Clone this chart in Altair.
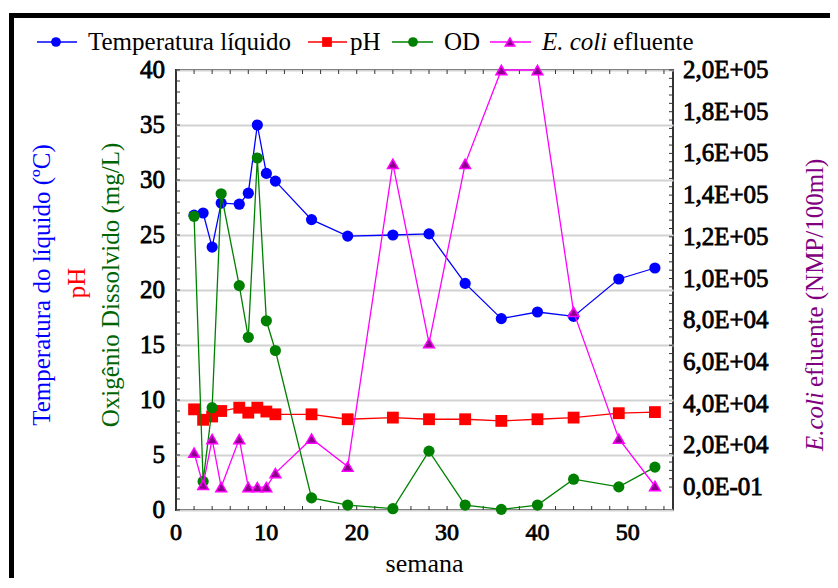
import altair as alt
import pandas as pd

# ---------------- data ----------------
weeks = [2, 3, 4, 5, 7, 8, 9, 10, 11, 15, 19, 24, 28, 32, 36, 40, 44, 49, 53]
temperatura = [26.8, 27.0, 23.9, 27.9, 27.8, 28.8, 35.0, 30.6, 29.9, 26.4, 24.9, 25.0, 25.1,
               20.6, 17.4, 18.0, 17.6, 21.0, 22.0]
ph = [9.15, 8.2, 8.5, 9.0, 9.3, 8.85, 9.3, 8.95, 8.7, 8.7, 8.25, 8.4, 8.25,
      8.25, 8.1, 8.25, 8.4, 8.8, 8.9]
od = [26.7, 2.6, 9.3, 28.75, 20.4, 15.7, 32.0, 17.2, 14.5, 1.1, 0.45, 0.12, 5.35,
      0.45, 0.06, 0.45, 2.8, 2.1, 3.9]
ecoli = [16500, 1000, 23000, 0, 23000, 0, 0, 0, 6700, 23200, 9800, 155000, 69000,
         155000, 200000, 200000, 84000, 23200, 500]

x_tick_values = [0, 10, 20, 30, 40, 50]
x_tick_labels = ["0", "10", "20", "30", "40", "50"]
left_tick_values = [0, 5, 10, 15, 20, 25, 30, 35, 40]
left_tick_labels = ["0", "5", "10", "15", "20", "25", "30", "35", "40"]
ecoli_tick_values = [0, 20000, 40000, 60000, 80000, 100000, 120000, 140000, 160000, 180000, 200000]
ecoli_tick_labels = ["0,0E-01", "2,0E+04", "4,0E+04", "6,0E+04", "8,0E+04", "1,0E+05",
                     "1,2E+05", "1,4E+05", "1,6E+05", "1,8E+05", "2,0E+05"]
x_minor = list(range(0, 56, 2))
left_minor = list(range(0, 41))
ecoli_minor = list(range(0, 200001, 4000))

# ---------------- setup ----------------
W, H = 497, 440
FONT = "Liberation Serif"
BOLD_STROKE = 0.8

df = pd.DataFrame({"semana": weeks, "temp": temperatura, "ph": ph, "od": od, "ecoli": ecoli})
one = pd.DataFrame({"k": [0]})

x_scale = alt.Scale(domain=[0, 55], nice=False, zero=False)
X = alt.X("semana:Q", scale=x_scale, axis=None)

yl_scale = alt.Scale(domain=[0, 40], nice=False, zero=False)
yl_axis = alt.Axis(values=left_tick_values, labels=False, ticks=False, domain=False,
                   grid=True, gridColor="#d2d2d2", gridWidth=2, title=None)

yr_scale = alt.Scale(domain=[-11000, 200000], nice=False, zero=False)


def series(field, color, shape, size):
    base = alt.Chart(df).encode(x=X, y=alt.Y(f"{field}:Q", scale=yl_scale, axis=yl_axis))
    line = base.mark_line(color=color, strokeWidth=1.3)
    pt = base.mark_point(shape=shape, filled=True, color=color, size=size, opacity=1)
    return line + pt


temp_layer = series("temp", "#0000FF", "circle", 125)
ph_layer = series("ph", "#FF0000", "square", 140)
od_layer = series("od", "#008000", "circle", 125)

# minor ticks (inward) on left, top, bottom
lt = pd.DataFrame({"v": left_minor})
left_ticks = alt.Chart(lt).mark_rule(color="#333333", strokeWidth=1).encode(
    y=alt.Y("v:Q", scale=yl_scale, axis=yl_axis), x=alt.value(0), x2=alt.value(4))
xt = pd.DataFrame({"semana": x_minor})
bottom_ticks = alt.Chart(xt).mark_rule(color="#333333", strokeWidth=1).encode(
    x=X, y=alt.value(H), y2=alt.value(H - 4))
top_ticks = alt.Chart(xt).mark_rule(color="#333333", strokeWidth=1).encode(
    x=X, y=alt.value(0), y2=alt.value(4))

# tick labels (Times-like bold)
lbl_kw = dict(font=FONT, stroke="black", strokeWidth=BOLD_STROKE, color="black")
left_lbl_df = pd.DataFrame({"v": left_tick_values, "t": left_tick_labels})
left_labels = alt.Chart(left_lbl_df).mark_text(
    align="right", baseline="middle", fontSize=25, **lbl_kw).encode(
    y=alt.Y("v:Q", scale=yl_scale, axis=yl_axis), x=alt.value(-11), text="t:N")
x_lbl_df = pd.DataFrame({"semana": x_tick_values, "t": x_tick_labels})
x_labels = alt.Chart(x_lbl_df).mark_text(
    align="center", baseline="middle", fontSize=24, **lbl_kw).encode(
    x=X, y=alt.value(H + 23), text="t:N")

left_group = alt.layer(left_ticks, bottom_ticks, top_ticks, left_labels, x_labels,
                       temp_layer, ph_layer, od_layer)

eb = alt.Chart(df).encode(x=X, y=alt.Y("ecoli:Q", scale=yr_scale, axis=None))
e_line = eb.mark_line(color="#FF00FF", strokeWidth=1.3)
e_pts = eb.mark_point(shape="triangle-up", filled=True, fill="#8B008B", stroke="#FF00FF",
                      strokeWidth=1.5, size=115, opacity=1)
rt = pd.DataFrame({"v": ecoli_minor})
right_ticks = alt.Chart(rt).mark_rule(color="#333333", strokeWidth=1).encode(
    y=alt.Y("v:Q", scale=yr_scale, axis=None), x=alt.value(W - 4), x2=alt.value(W))
right_lbl_df = pd.DataFrame({"v": ecoli_tick_values, "t": ecoli_tick_labels})
right_labels = alt.Chart(right_lbl_df).mark_text(
    align="left", baseline="middle", fontSize=25, **lbl_kw).encode(
    y=alt.Y("v:Q", scale=yr_scale, axis=None), x=alt.value(W + 10), text="t:N")
right_group = alt.layer(right_ticks, right_labels, e_line, e_pts)


# ---------------- decorations: titles, legend, frame ----------------
def text(t, x, y, color="black", size=25, angle=0, align="center", baseline="middle",
         style="normal"):
    return alt.Chart(one).mark_text(text=t, color=color, font=FONT, fontSize=size,
                                    angle=angle, align=align, baseline=baseline,
                                    fontStyle=style).encode(
        x=alt.value(x), y=alt.value(y))


deco = [
    alt.Chart(one).mark_rect(fillOpacity=0, stroke="black", strokeWidth=5).encode(
        x=alt.value(-164.5), x2=alt.value(W + 300), y=alt.value(-54.5), y2=alt.value(H + 300)),
    text("Temperatura do líquido (ºC)", -134, 215, color="#0000FF", angle=270),
    text("pH", -99, 213, color="#FF0000", angle=270),
    text("Oxigênio Dissolvido (mg/L)", -65, 215, color="#006400", angle=270),
    text("E.coli", 639, 322, color="#800080", angle=270, align="right", style="italic"),
    text("efluente (NMP/100ml)", 639, 317, color="#800080", angle=270, align="left"),
    text("semana", W / 2, H + 62, size=26, baseline="alphabetic"),
]

legend_y = -28
legend_items = [
    (-139, -99, -120, "#0000FF", "circle", None),
    (132, 171, 151, "#FF0000", "square", None),
    (216, 257, 237, "#008000", "circle", None),
    (314, 355, 334, "#FF00FF", "triangle-up", "#8B008B"),
]
for x1, x2, xm, col, shp, fcol in legend_items:
    deco.append(alt.Chart(one).mark_rule(color=col, strokeWidth=1.5).encode(
        x=alt.value(x1), x2=alt.value(x2), y=alt.value(legend_y)))
    if fcol:
        deco.append(alt.Chart(one).mark_point(shape=shp, filled=True, fill=fcol, stroke=col,
                                              strokeWidth=1.5, size=90, opacity=1).encode(
            x=alt.value(xm), y=alt.value(legend_y)))
    else:
        deco.append(alt.Chart(one).mark_point(shape=shp, filled=True, color=col,
                                              size=95, opacity=1).encode(
            x=alt.value(xm), y=alt.value(legend_y)))

lb = -20
deco += [
    text("Temperatura líquido", -88, lb, align="left", baseline="alphabetic"),
    text("pH", 174, lb, align="left", baseline="alphabetic"),
    text("OD", 268, lb, align="left", baseline="alphabetic"),
    text("E. coli", 366, lb, align="left", baseline="alphabetic", style="italic"),
    text("efluente", 437, lb, align="left", baseline="alphabetic"),
]

chart = alt.layer(
    alt.layer(*deco),
    alt.layer(left_group, right_group).resolve_scale(y="independent"),
).properties(
    width=W, height=H,
    autosize=alt.AutoSizeParams(type="none"),
    padding={"left": 168, "top": 62, "right": 157, "bottom": 68},
    background="white",
).configure_view(stroke="#333333", strokeWidth=2)

chart.save("out.html", embed_options={"renderer": "svg", "actions": False})
